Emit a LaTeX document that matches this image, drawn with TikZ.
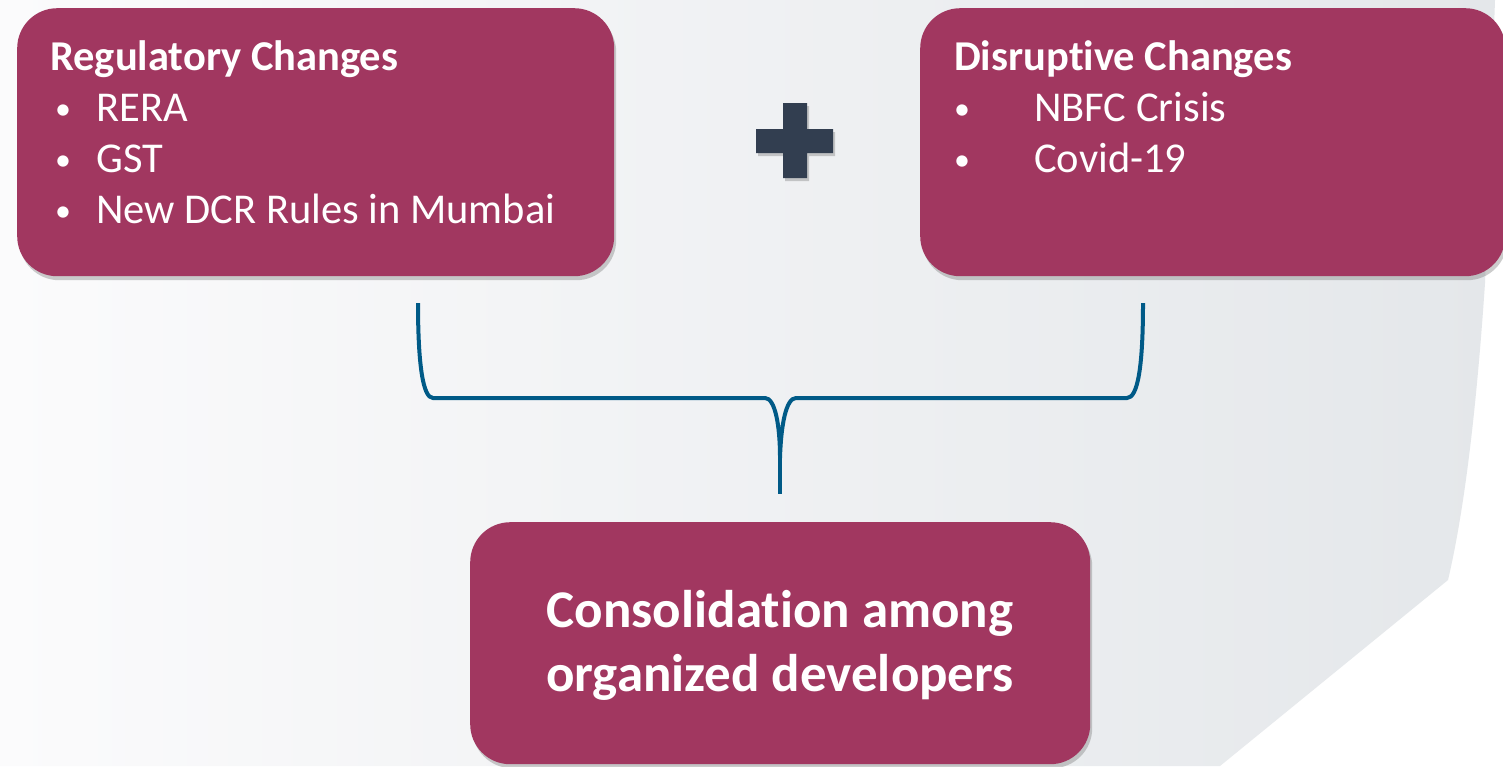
\documentclass[tikz,border=0pt]{standalone}
\usepackage{fontspec}
\setmainfont{Carlito}[Ligatures=NoCommon]
\usetikzlibrary{shadows}
\definecolor{boxred}{HTML}{A13760}
\definecolor{plusc}{HTML}{323E50}
\definecolor{bracec}{HTML}{005A87}
\definecolor{bglight}{HTML}{FBFBFC}
\definecolor{bgmid}{HTML}{F3F4F6}
\definecolor{bgdark}{HTML}{E4E7EA}
\begin{document}
\begin{tikzpicture}[x=1pt,y=-1pt,
  card/.style={fill=boxred, rounded corners=40pt, inner sep=0pt,
    drop shadow={opacity=0.4, shadow xshift=2pt, shadow yshift=-4pt}},
  titletext/.style={anchor=base west, text=white, inner sep=0pt,
    font=\fontsize{42.5}{50}\selectfont\bfseries},
  itemtext/.style={anchor=base west, text=white, inner sep=0pt,
    font=\fontsize{42.5}{50}\selectfont},
  bullettext/.style={anchor=base west, text=white, inner sep=0pt,
    font=\fontsize{32}{40}\selectfont},
  bigtext/.style={text=white, align=center, inner sep=0pt,
    font=\fontsize{53}{64}\selectfont\bfseries},
  bracestyle/.style={draw=bracec, line width=4pt}
]
\useasboundingbox (0,0) rectangle (1503,766);
% background
\fill[white] (0,0) rectangle (1503,766);
\shade[left color=bglight, middle color=bgmid, right color=bgdark]
  (0,0) -- (1495,0) -- (1485,283) .. controls (1475,430) and (1462,520) .. (1448,580)
  -- (1220,766) -- (0,766) -- cycle;

% boxes
\node[card, anchor=north west, minimum width=597pt, minimum height=268pt] (reg) at (17,8) {};
\node[card, anchor=north west, minimum width=585pt, minimum height=268pt] (dis) at (920,8) {};
\node[card, anchor=north west, minimum width=620pt, minimum height=242pt] (cons) at (470,522) {};

% left box text
\node[titletext] (regt) at (50,70) {Regulatory Changes};
\node[bullettext] (regb1) at (55,119) {•};
\node[itemtext] (regi1) at (96,121) {RERA};
\node[bullettext] (regb2) at (55,170) {•};
\node[itemtext] (regi2) at (96,172) {GST};
\node[bullettext] (regb3) at (55,221) {•};
\node[itemtext] (regi3) at (96,223) {New DCR Rules in Mumbai};

% right box text
\node[titletext] (dist) at (954,70) {Disruptive Changes};
\node[bullettext] (disb1) at (954,119) {•};
\node[itemtext] (disi1) at (1034,121) {NBFC Crisis};
\node[bullettext] (disb2) at (954,170) {•};
\node[itemtext] (disi2) at (1034,172) {Covid-19};

% bottom box text
\node[bigtext] (const) at (780,645) {Consolidation among\\organized developers};

% plus sign
\fill[plusc, drop shadow={opacity=0.4, shadow xshift=2pt, shadow yshift=-3pt}]
  (783,103) -- (807,103) -- (807,129) -- (833,129) -- (833,153) -- (807,153)
  -- (807,178) -- (783,178) -- (783,153) -- (756,153) -- (756,129) -- (783,129) -- cycle;

% brace
\coordinate (bl) at (418,303);
\coordinate (br) at (1143,303);
\coordinate (btip) at (780,458);
\coordinate (bend) at (780,494);
\draw[bracestyle]
  (bl) .. controls (418,365) and (423,398) .. (433,398) -- (765,398)
  .. controls (775,398) and (780,425) .. (btip)
  .. controls (781,425) and (786,398) .. (796,398) -- (1127,398)
  .. controls (1138,398) and (1143,365) .. (br);
\draw[bracestyle] (btip) -- (bend);
\end{tikzpicture}
\end{document}
